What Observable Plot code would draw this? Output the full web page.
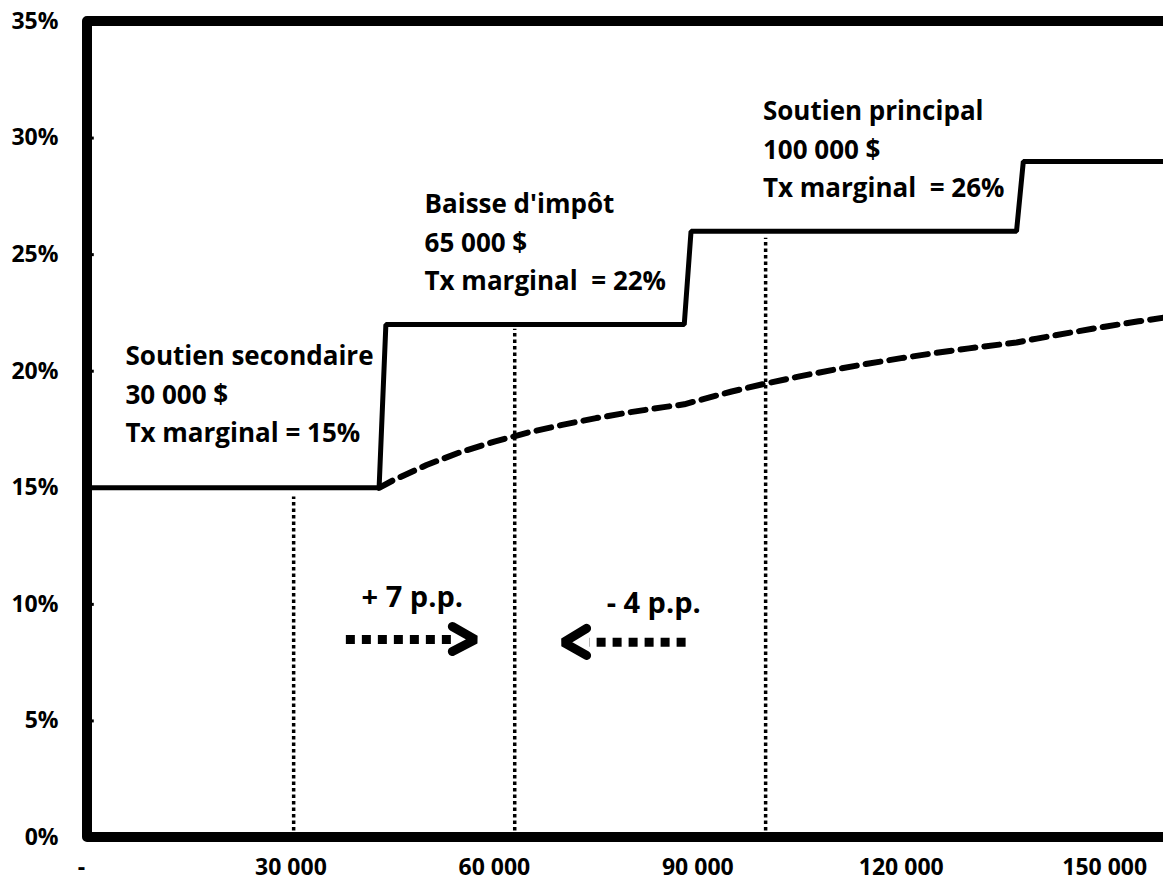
<!DOCTYPE html>
<html><head><meta charset="utf-8">
<script src="https://cdn.jsdelivr.net/npm/d3@7"></script>
<script src="https://cdn.jsdelivr.net/npm/@observablehq/plot@0.6"></script>
<style>
html,body{margin:0;padding:0;background:#fff;overflow:hidden;}
#chart{width:1163px;height:882px;overflow:hidden;}
</style></head><body><div id="chart"></div>
<script>
// Marginal rate (solid step line)
const incomeSteps = [0, 43000, 44000, 88000, 89000, 137000, 138000, 160000];
const marginalRate = [15, 15, 22, 22, 26, 26, 29, 29];
// Average rate (dashed line)
const avgIncome = [43000,45000,50000,55000,60000,65000,70000,75000,80000,85000,88000,90000,95000,100000,105000,110000,115000,120000,125000,130000,135000,137000,140000,145000,150000,155000,160000];
const avgRate = [15.0,15.31,15.98,16.53,16.98,17.37,17.70,17.99,18.24,18.46,18.58,18.74,19.13,19.47,19.78,20.06,20.32,20.56,20.78,20.98,21.16,21.23,21.40,21.66,21.91,22.14,22.35];
// Dotted reference verticals
const markerIncome = [30400, 63000, 100000];
const markerTop = [14.6, 21.8, 25.7];
// Axis ticks
const xTicks = [0, 30000, 60000, 90000, 120000, 150000];
const xTickLabels = ["-  ", "30 000", "60 000", "90 000", "120 000", "150 000"];
const yTicks = [0, 5, 10, 15, 20, 25, 30, 35];
const yTickLabels = ["0%", "5%", "10%", "15%", "20%", "25%", "30%", "35%"];
// Annotation blocks
const noteText = [
  "Soutien secondaire\n30 000 $\nTx marginal = 15%",
  "Baisse d'impôt\n65 000 $\nTx marginal  = 22%",
  "Soutien principal\n100 000 $\nTx marginal  = 26%"
];
const noteX = [5600, 49700, 99600];
const noteY = [16.95, 23.47, 27.46];
// Arrow annotations
const ppText = ["+ 7 p.p.", "- 4 p.p."];
const ppX = [47900, 83500];
const ppY = [9.87, 9.65];
const shaftFrom = [38100, 88200];
const shaftTo = [54600, 74000];
const shaftY = [8.49, 8.37];
const headArmX = [53800, 73600];
const headTipX = [57200, 70200];
const headTopY = [9.05, 8.97];
const headTipY = [8.49, 8.37];
const headBotY = [7.98, 7.81];

const steps = incomeSteps.map((x, i) => ({x, y: marginalRate[i]}));
const avg = avgIncome.map((x, i) => ({x, y: avgRate[i]}));
const markers = markerIncome.map((x, i) => ({x, top: markerTop[i]}));
const notes = noteText.map((t, i) => ({t, x: noteX[i], y: noteY[i]}));
const pp = ppText.map((t, i) => ({t, x: ppX[i], y: ppY[i]}));
const shafts = shaftFrom.map((x1, i) => ({x1, x2: shaftTo[i], y: shaftY[i]}));
const heads = [];
headArmX.forEach((ax, i) => {
  heads.push({k: i, x: ax, y: headTopY[i]});
  heads.push({k: i, x: headTipX[i], y: headTipY[i]});
  heads.push({k: i, x: ax, y: headBotY[i]});
});
const frameBox = [{x1: 0, x2: 175000, y1: 0, y2: 35}];

const chart = Plot.plot({
  width: 1163,
  height: 882,
  marginLeft: 87,
  marginRight: 0,
  marginTop: 21,
  marginBottom: 45,
  style: {fontFamily: "'Open Sans', sans-serif", fontWeight: "bold", fontSize: "23px", color: "black", background: "white", overflow: "hidden"},
  x: {domain: [0, 160000], range: [87, 1172], axis: null},
  y: {domain: [0, 35], range: [837, 21], axis: null},
  marks: [
    Plot.ruleX(markers, {x: "x", y1: 0, y2: "top", stroke: "black", strokeWidth: 3.5, strokeDasharray: "3.5,3"}),
    Plot.line(avg, {x: "x", y: "y", stroke: "black", strokeWidth: 6, strokeDasharray: "15,9"}),
    Plot.line(steps, {x: "x", y: "y", stroke: "black", strokeWidth: 5, strokeLinejoin: "miter"}),
    Plot.link(shafts, {x1: "x1", x2: "x2", y1: "y", y2: "y", stroke: "black", strokeWidth: 9, strokeDasharray: "9,7"}),
    Plot.line(heads, {x: "x", y: "y", z: "k", stroke: "black", strokeWidth: 9, strokeLinecap: "round", strokeLinejoin: "miter"}),
    Plot.text(notes, {x: "x", y: "y", text: "t", textAnchor: "start", lineAnchor: "bottom", lineHeight: 1.49, fontSize: 26, fontWeight: "bold", fill: "black"}),
    Plot.text(pp, {x: "x", y: "y", text: "t", textAnchor: "middle", lineAnchor: "bottom", fontSize: 29, fontWeight: "bold", fill: "black"}),
    Plot.ruleY(yTicks, {y: d => d, x1: 0, x2: 1000, stroke: "black", strokeWidth: 3}),
    Plot.rect(frameBox, {x1: "x1", x2: "x2", y1: "y1", y2: "y2", fill: "none", stroke: "black", strokeWidth: 10, strokeLinejoin: "round"}),
    Plot.axisX(xTicks, {anchor: "bottom", tickSize: 0, tickPadding: 21, tickFormat: d => xTickLabels[xTicks.indexOf(d)], fontSize: 23, fontWeight: "bold"}),
    Plot.axisY(yTicks, {anchor: "left", tickSize: 0, tickPadding: 29, tickFormat: d => yTickLabels[yTicks.indexOf(d)], fontSize: 23, fontWeight: "bold"})
  ]
});
document.getElementById("chart").appendChild(chart);
</script>
</body></html>
